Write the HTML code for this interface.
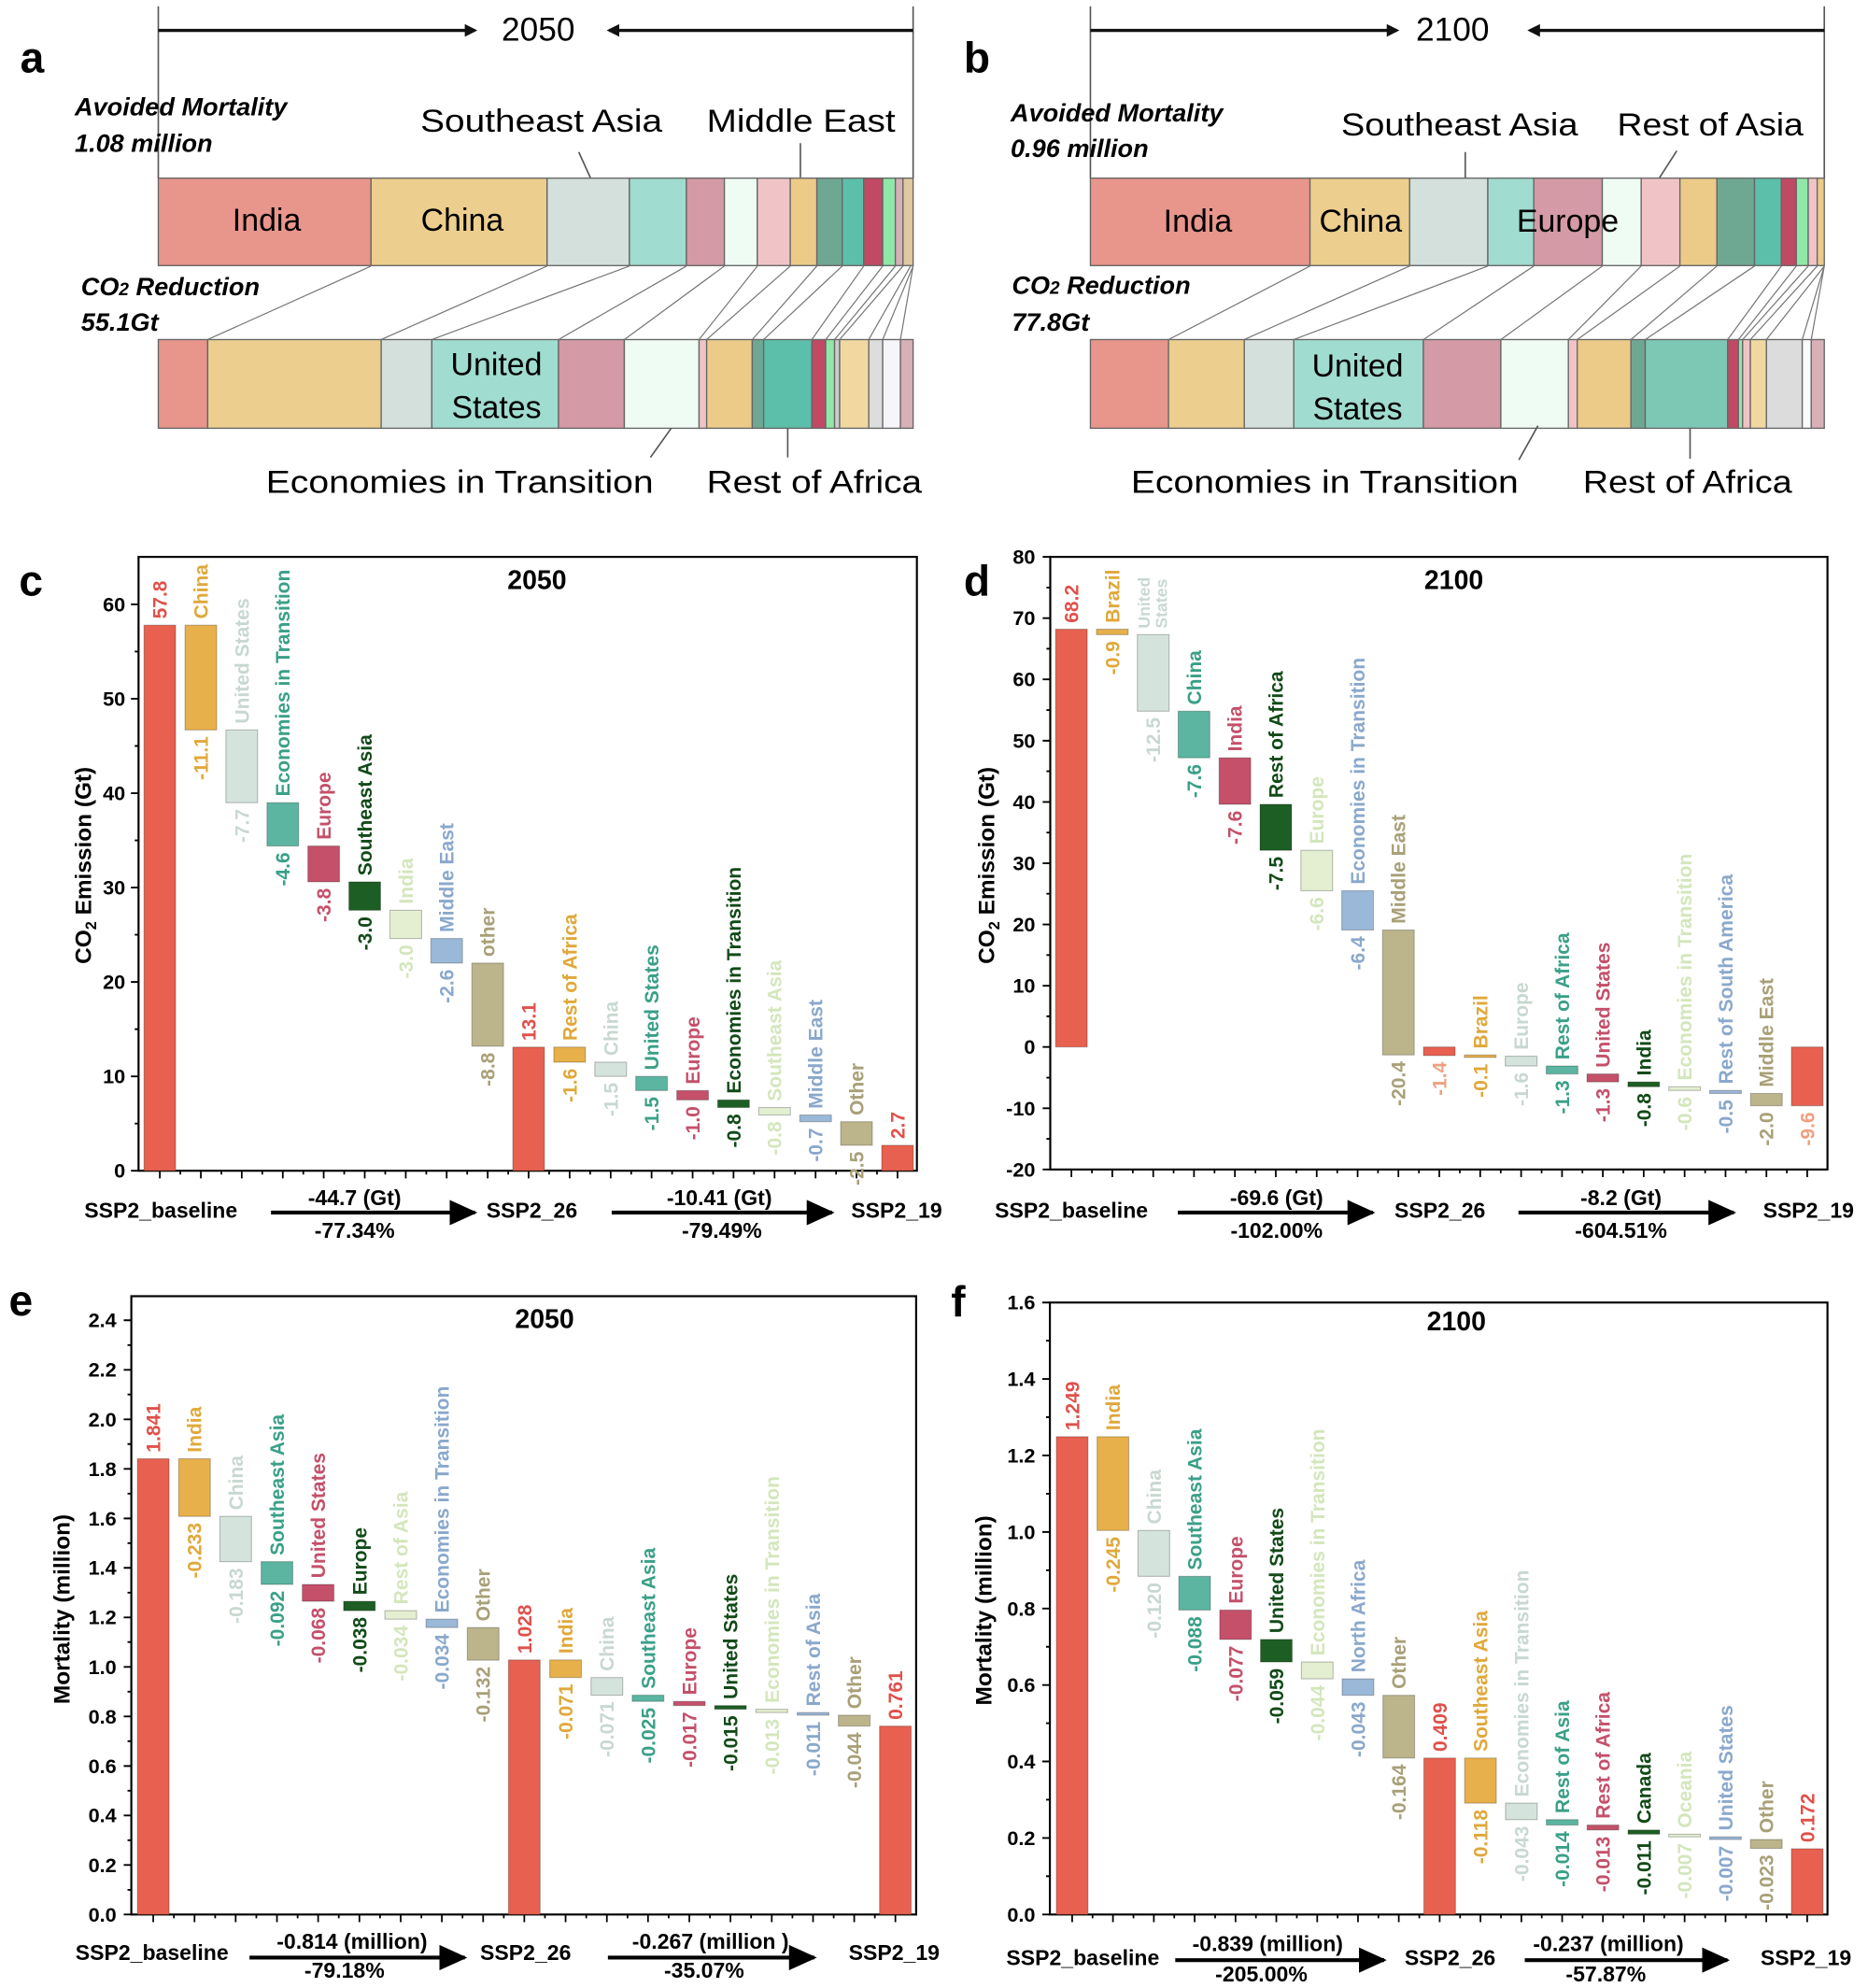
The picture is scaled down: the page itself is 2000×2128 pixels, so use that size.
<!DOCTYPE html>
<html><head><meta charset="utf-8"><style>
html,body{margin:0;padding:0;background:#fff}
svg{display:block}
text{font-family:"Liberation Sans",Arial,sans-serif}
.b{font-weight:bold}
.n{font-size:15.5px;font-weight:bold}
.v{font-size:15.5px;font-weight:bold;text-anchor:end}
.t{font-size:16px;font-weight:bold;text-anchor:end}
.x{font-size:17px;font-weight:bold;text-anchor:middle}
.reg{font-size:25px}
.it{font-size:20px;font-weight:bold;font-style:italic}
.L{font-size:34px;font-weight:bold}
</style></head><body>
<svg width="2000" height="2128" viewBox="0 0 1475 1569" preserveAspectRatio="none" xmlns="http://www.w3.org/2000/svg">
<defs><marker id="ah" markerWidth="10" markerHeight="10" refX="8" refY="5" orient="auto" markerUnits="userSpaceOnUse"><path d="M0,0 L10,5 L0,10 z" fill="#111"/></marker>
<marker id="ah2" markerWidth="22" markerHeight="20" refX="20" refY="10" orient="auto" markerUnits="userSpaceOnUse"><path d="M0,0 L22,10 L0,20 z" fill="#000"/></marker></defs>

<!-- ===== Panel a ===== -->
<text class="L" x="16" y="57">a</text>
<path d="M125,5V141M721,5V141" stroke="#555" stroke-width="1.2"/>
<path d="M125,24H375" stroke="#111" stroke-width="2.5" marker-end="url(#ah)"/>
<path d="M721,24H481" stroke="#111" stroke-width="2.5" marker-end="url(#ah)"/>
<text x="425" y="32" font-size="26" text-anchor="middle">2050</text>
<text class="it" x="59" y="91">Avoided  Mortality</text>
<text class="it" x="59" y="120">1.08 million</text>
<text class="it" x="64" y="233">CO<tspan font-size="14">2</tspan> Reduction</text>
<text class="it" x="64" y="261">55.1Gt</text>
<text class="reg" x="332" y="104" textLength="191" lengthAdjust="spacingAndGlyphs">Southeast Asia</text>
<text class="reg" x="558" y="104" textLength="149" lengthAdjust="spacingAndGlyphs">Middle East</text>
<path d="M466.5,141L457,120M632,140V113" stroke="#555" stroke-width="1.2"/>
<g stroke="#666" stroke-width="1">
<rect x="125" y="140.6" width="168" height="69" fill="#e8958c"/>
<rect x="293" y="140.6" width="139" height="69" fill="#ecce8e"/>
<rect x="432" y="140.6" width="65" height="69" fill="#d3e0dc"/>
<rect x="497" y="140.6" width="45" height="69" fill="#a0dccf"/>
<rect x="542" y="140.6" width="30" height="69" fill="#d49aa5"/>
<rect x="572" y="140.6" width="26" height="69" fill="#effcf4"/>
<rect x="598" y="140.6" width="26" height="69" fill="#f0c4c6"/>
<rect x="624" y="140.6" width="21" height="69" fill="#ecca88"/>
<rect x="645" y="140.6" width="20" height="69" fill="#6fa892"/>
<rect x="665" y="140.6" width="17" height="69" fill="#5cbfaa"/>
<rect x="682" y="140.6" width="15" height="69" fill="#c04a64"/>
<rect x="697" y="140.6" width="10" height="69" fill="#90e8a8"/>
<rect x="707" y="140.6" width="6" height="69" fill="#d8b0b8"/>
<rect x="713" y="140.6" width="8" height="69" fill="#e0c8a0"/>
<rect x="125" y="268" width="39" height="70" fill="#e8958c"/>
<rect x="164" y="268" width="137" height="70" fill="#ecce8e"/>
<rect x="301" y="268" width="40" height="70" fill="#d3e0dc"/>
<rect x="341" y="268" width="100" height="70" fill="#a0dccf"/>
<rect x="441" y="268" width="52" height="70" fill="#d49aa5"/>
<rect x="493" y="268" width="59" height="70" fill="#effcf4"/>
<rect x="552" y="268" width="6" height="70" fill="#f0c4c6"/>
<rect x="558" y="268" width="36" height="70" fill="#ecca88"/>
<rect x="594" y="268" width="9" height="70" fill="#6fa892"/>
<rect x="603" y="268" width="38" height="70" fill="#5cbfaa"/>
<rect x="641" y="268" width="11" height="70" fill="#c04a64"/>
<rect x="652" y="268" width="7" height="70" fill="#90e8a8"/>
<rect x="659" y="268" width="4" height="70" fill="#ccc"/>
<rect x="663" y="268" width="23" height="70" fill="#f0d8a0"/>
<rect x="686" y="268" width="11" height="70" fill="#dddddd"/>
<rect x="697" y="268" width="14" height="70" fill="#f6f6fa"/>
<rect x="711" y="268" width="10" height="70" fill="#d8b0b8"/>
</g>
<g stroke="#777" stroke-width="0.9">
<path d="M293,210L164,268M432,210L301,268M497,210L341,268M542,210L441,268M572,210L493,268M598,210L552,268M624,210L558,268M645,210L594,268M665,210L603,268M682,210L641,268M697,210L652,268M707,210L659,268M713,210L663,268M719,210L686,268M721,210L697,268M721,210L711,268"/>
</g>
<text class="reg" x="210.6" y="182" text-anchor="middle">India</text>
<text class="reg" x="365" y="182" text-anchor="middle">China</text>
<text class="reg" x="392" y="296" text-anchor="middle">United</text>
<text class="reg" x="392" y="330" text-anchor="middle">States</text>
<text class="reg" x="210" y="389" textLength="306" lengthAdjust="spacingAndGlyphs">Economies in Transition</text>
<text class="reg" x="558" y="389" textLength="170" lengthAdjust="spacingAndGlyphs">Rest of Africa</text>
<path d="M530,338L513.6,361M622,338V361" stroke="#555" stroke-width="1.2"/>

<!-- ===== Panel b ===== -->
<text class="L" x="761" y="57">b</text>
<path d="M861,5V141M1440.5,5V141" stroke="#555" stroke-width="1.2"/>
<path d="M861,24H1103" stroke="#111" stroke-width="2.5" marker-end="url(#ah)"/>
<path d="M1440.5,24H1208" stroke="#111" stroke-width="2.5" marker-end="url(#ah)"/>
<text x="1147" y="32" font-size="26" text-anchor="middle">2100</text>
<text class="it" x="798" y="96">Avoided  Mortality</text>
<text class="it" x="798" y="124">0.96 million</text>
<text class="it" x="799" y="232">CO<tspan font-size="14">2</tspan> Reduction</text>
<text class="it" x="799" y="261">77.8Gt</text>
<text class="reg" x="1059" y="107" textLength="187" lengthAdjust="spacingAndGlyphs">Southeast Asia</text>
<text class="reg" x="1277" y="107" textLength="147" lengthAdjust="spacingAndGlyphs">Rest of Asia</text>
<path d="M1157,120V147M1324,119L1308,144" stroke="#555" stroke-width="1.2"/>
<g stroke="#666" stroke-width="1">
<rect x="861" y="140.6" width="173.4" height="69" fill="#e8958c"/>
<rect x="1034.4" y="140.6" width="78.7" height="69" fill="#ecce8e"/>
<rect x="1113.1" y="140.6" width="61.7" height="69" fill="#d3e0dc"/>
<rect x="1174.8" y="140.6" width="36.3" height="69" fill="#a0dccf"/>
<rect x="1211.1" y="140.6" width="54.1" height="69" fill="#d49aa5"/>
<rect x="1265.2" y="140.6" width="30.7" height="69" fill="#effcf4"/>
<rect x="1295.9" y="140.6" width="30.6" height="69" fill="#f0c4c6"/>
<rect x="1326.5" y="140.6" width="29.2" height="69" fill="#ecca88"/>
<rect x="1355.7" y="140.6" width="29.7" height="69" fill="#6fa892"/>
<rect x="1385.4" y="140.6" width="21.2" height="69" fill="#5cbfaa"/>
<rect x="1406.6" y="140.6" width="11.8" height="69" fill="#c04a64"/>
<rect x="1418.4" y="140.6" width="9.4" height="69" fill="#90e8a8"/>
<rect x="1427.8" y="140.6" width="7.1" height="69" fill="#f0c4c6"/>
<rect x="1434.9" y="140.6" width="5.6" height="69" fill="#ecca88"/>
<rect x="861" y="268" width="61.7" height="70" fill="#e8958c"/>
<rect x="922.7" y="268" width="59.8" height="70" fill="#ecce8e"/>
<rect x="982.5" y="268" width="39.1" height="70" fill="#d3e0dc"/>
<rect x="1021.6" y="268" width="102.3" height="70" fill="#a0dccf"/>
<rect x="1123.9" y="268" width="61.2" height="70" fill="#d49aa5"/>
<rect x="1185.1" y="268" width="53.3" height="70" fill="#effcf4"/>
<rect x="1238.4" y="268" width="7" height="70" fill="#f0c4c6"/>
<rect x="1245.4" y="268" width="42.4" height="70" fill="#ecca88"/>
<rect x="1287.8" y="268" width="11.3" height="70" fill="#6fa892"/>
<rect x="1299.1" y="268" width="65.1" height="70" fill="#7cc8b4"/>
<rect x="1364.2" y="268" width="8.5" height="70" fill="#c04a64"/>
<rect x="1372.7" y="268" width="3.3" height="70" fill="#90e8a8"/>
<rect x="1376" y="268" width="6.1" height="70" fill="#f0c4c6"/>
<rect x="1382.1" y="268" width="12.7" height="70" fill="#f0d8a0"/>
<rect x="1394.8" y="268" width="28.3" height="70" fill="#dcdcdc"/>
<rect x="1423.1" y="268" width="7.1" height="70" fill="#fafafa"/>
<rect x="1430.2" y="268" width="10.3" height="70" fill="#d8b0b8"/>
</g>
<g stroke="#777" stroke-width="0.9">
<path d="M1034.4,210L922.7,268M1113.1,210L982.5,268M1174.8,210L1021.6,268M1211.1,210L1123.9,268M1265.2,210L1185.1,268M1295.9,210L1238.4,268M1326.5,210L1245.4,268M1355.7,210L1287.8,268M1385.4,210L1299.1,268M1406.6,210L1364.2,268M1418.4,210L1372.7,268M1427.8,210L1376,268M1434.9,210L1382.1,268M1440.5,210L1394.8,268M1440.5,210L1423.1,268M1440.5,210L1430.2,268"/>
</g>
<text class="reg" x="945.8" y="183" text-anchor="middle">India</text>
<text class="reg" x="1074.4" y="183" text-anchor="middle">China</text>
<text class="reg" x="1237.9" y="183" text-anchor="middle">Europe</text>
<text class="reg" x="1072" y="297" text-anchor="middle">United</text>
<text class="reg" x="1072" y="331" text-anchor="middle">States</text>
<text class="reg" x="893" y="389" textLength="306" lengthAdjust="spacingAndGlyphs">Economies in Transition</text>
<text class="reg" x="1250" y="389" textLength="165" lengthAdjust="spacingAndGlyphs">Rest of Africa</text>
<path d="M1214.4,336L1199.3,363M1334.5,338V362" stroke="#555" stroke-width="1.2"/>

<!-- ===== Panel c ===== -->
<text class="L" x="15" y="470">c</text>
<rect x="109.4" y="439.5" width="614.6" height="484.5" fill="none" stroke="#000" stroke-width="1.6"/>
<path d="M109.4,924h-6M109.4,849.5h-6M109.4,775h-6M109.4,700.5h-6M109.4,626h-6M109.4,551.5h-6M109.4,477h-6M109.4,886.75h-3M109.4,812.25h-3M109.4,737.75h-3M109.4,663.25h-3M109.4,588.75h-3M109.4,514.25h-3" stroke="#000" stroke-width="1.4"/>
<g class="t"><text x="99" y="929.5">0</text><text x="99" y="557">50</text><text x="99" y="855">10</text><text x="99" y="780.5">20</text><text x="99" y="706">30</text><text x="99" y="631.5">40</text><text x="99" y="482.5">60</text></g>
<path d="M126.2,924v6M158.6,924v6M190.9,924v6M223.3,924v6M255.6,924v6M288,924v6M320.4,924v6M352.7,924v6M385.1,924v6M417.4,924v6M449.8,924v6M482.2,924v6M514.5,924v6M546.9,924v6M579.2,924v6M611.6,924v6M644,924v6M676.3,924v6M708.7,924v6M142.4,924v3M174.8,924v3M207.1,924v3M239.5,924v3M271.8,924v3M304.2,924v3M336.6,924v3M368.9,924v3M401.3,924v3M433.6,924v3M466,924v3M498.4,924v3M530.7,924v3M563.1,924v3M595.4,924v3M627.8,924v3M660.2,924v3M692.5,924v3" stroke="#000" stroke-width="1.3"/>
<text transform="translate(72,683) rotate(-90)" font-size="18" font-weight="bold" text-anchor="middle">CO<tspan font-size="12" dy="4">2</tspan><tspan dy="-4"> Emission (Gt)</tspan></text>
<text x="424" y="465" font-size="21" font-weight="bold" text-anchor="middle">2050</text>
<g stroke="rgba(0,0,0,0.25)" stroke-width="0.8">
<rect x="113.7" y="493.4" width="25" height="430.6" fill="#e8604f"/>
<rect x="146.1" y="493.4" width="25" height="82.7" fill="#e8b04a"/>
<rect x="178.4" y="576.1" width="25" height="57.4" fill="#d4e4dc"/>
<rect x="210.8" y="633.5" width="25" height="34.2" fill="#5bb5a0"/>
<rect x="243.1" y="667.7" width="25" height="28.3" fill="#c4506a"/>
<rect x="275.5" y="696" width="25" height="22.4" fill="#1d5e25"/>
<rect x="307.9" y="718.4" width="25" height="22.3" fill="#e3efd0"/>
<rect x="340.2" y="740.7" width="25" height="19.4" fill="#9ab8d8"/>
<rect x="372.6" y="760.1" width="25" height="65.6" fill="#bcb48a"/>
<rect x="404.9" y="826.4" width="25" height="97.6" fill="#e8604f"/>
<rect x="437.3" y="826.4" width="25" height="11.9" fill="#e8b04a"/>
<rect x="469.7" y="838.3" width="25" height="11.2" fill="#d4e4dc"/>
<rect x="502" y="849.5" width="25" height="11.2" fill="#5bb5a0"/>
<rect x="534.4" y="860.7" width="25" height="7.4" fill="#c4506a"/>
<rect x="566.7" y="868.1" width="25" height="6" fill="#1d5e25"/>
<rect x="599.1" y="874.1" width="25" height="5.9" fill="#e3efd0"/>
<rect x="631.5" y="880" width="25" height="5.3" fill="#9ab8d8"/>
<rect x="663.8" y="885.3" width="25" height="18.6" fill="#bcb48a"/>
<rect x="696.2" y="903.9" width="25" height="20.1" fill="#e8604f"/>
</g>
<g class="n">
<text transform="translate(131.7,488.4) rotate(-90)" fill="#e0504a">57.8</text>
<text transform="translate(164.1,488.4) rotate(-90)" fill="#e0a83a">China</text>
<text transform="translate(196.4,571.1) rotate(-90)" fill="#c8d8d0">United States</text>
<text transform="translate(228.8,628.5) rotate(-90)" fill="#3aa088">Economies in Transition</text>
<text transform="translate(261.1,662.7) rotate(-90)" fill="#c4506a">Europe</text>
<text transform="translate(293.5,691) rotate(-90)" fill="#124a18">Southeast Asia</text>
<text transform="translate(325.9,713.4) rotate(-90)" fill="#d4e6bc">India</text>
<text transform="translate(358.2,735.7) rotate(-90)" fill="#8aa8cc">Middle East</text>
<text transform="translate(390.6,755.1) rotate(-90)" fill="#a8a078">other</text>
<text transform="translate(422.9,821.4) rotate(-90)" fill="#e0504a">13.1</text>
<text transform="translate(455.3,821.4) rotate(-90)" fill="#e0a83a">Rest of Africa</text>
<text transform="translate(487.7,833.3) rotate(-90)" fill="#c8d8d0">China</text>
<text transform="translate(520,844.5) rotate(-90)" fill="#3aa088">United States</text>
<text transform="translate(552.4,855.7) rotate(-90)" fill="#c4506a">Europe</text>
<text transform="translate(584.7,863.1) rotate(-90)" fill="#124a18">Economies in Transition</text>
<text transform="translate(617.1,869.1) rotate(-90)" fill="#d4e6bc">Southeast Asia</text>
<text transform="translate(649.5,875) rotate(-90)" fill="#8aa8cc">Middle East</text>
<text transform="translate(681.8,880.3) rotate(-90)" fill="#a8a078">Other</text>
<text transform="translate(714.2,898.9) rotate(-90)" fill="#e0504a">2.7</text>
</g>
<g class="v">
<text transform="translate(164.1,581.1) rotate(-90)" fill="#e0a83a">-11.1</text>
<text transform="translate(196.4,638.5) rotate(-90)" fill="#c8d8d0">-7.7</text>
<text transform="translate(228.8,672.7) rotate(-90)" fill="#3aa088">-4.6</text>
<text transform="translate(261.1,701) rotate(-90)" fill="#c4506a">-3.8</text>
<text transform="translate(293.5,723.4) rotate(-90)" fill="#124a18">-3.0</text>
<text transform="translate(325.9,745.7) rotate(-90)" fill="#d4e6bc">-3.0</text>
<text transform="translate(358.2,765.1) rotate(-90)" fill="#8aa8cc">-2.6</text>
<text transform="translate(390.6,830.7) rotate(-90)" fill="#a8a078">-8.8</text>
<text transform="translate(455.3,843.3) rotate(-90)" fill="#e0a83a">-1.6</text>
<text transform="translate(487.7,854.5) rotate(-90)" fill="#c8d8d0">-1.5</text>
<text transform="translate(520,865.7) rotate(-90)" fill="#3aa088">-1.5</text>
<text transform="translate(552.4,873.1) rotate(-90)" fill="#c4506a">-1.0</text>
<text transform="translate(584.7,879.1) rotate(-90)" fill="#124a18">-0.8</text>
<text transform="translate(617.1,885) rotate(-90)" fill="#d4e6bc">-0.8</text>
<text transform="translate(649.5,890.3) rotate(-90)" fill="#8aa8cc">-0.7</text>
<text transform="translate(681.8,908.9) rotate(-90)" fill="#a8a078">-2.5</text>
</g>
<g class="x">
<text x="127" y="961">SSP2_baseline</text>
<text x="280" y="951">-44.7 (Gt)</text>
<text x="280" y="977">-77.34%</text>
<text x="420" y="961">SSP2_26</text>
<text x="568" y="951">-10.41 (Gt)</text>
<text x="570" y="977">-79.49%</text>
<text x="708" y="961">SSP2_19</text>
</g>
<path d="M214,957H375" stroke="#000" stroke-width="3" marker-end="url(#ah2)"/>
<path d="M483,957H657" stroke="#000" stroke-width="3" marker-end="url(#ah2)"/>

<!-- ===== Panel d ===== -->
<text class="L" x="761" y="470">d</text>
<rect x="829.3" y="439.5" width="613.7" height="483.5" fill="none" stroke="#000" stroke-width="1.6"/>
<path d="M829.3,923h-6M829.3,874.7h-6M829.3,826.3h-6M829.3,778h-6M829.3,729.6h-6M829.3,681.3h-6M829.3,632.9h-6M829.3,584.6h-6M829.3,536.2h-6M829.3,487.9h-6M829.3,439.5h-6M829.3,898.8h-3M829.3,850.5h-3M829.3,802.1h-3M829.3,753.8h-3M829.3,705.4h-3M829.3,657.1h-3M829.3,608.7h-3M829.3,560.4h-3M829.3,512h-3M829.3,463.7h-3" stroke="#000" stroke-width="1.4"/>
<g class="t"><text x="817.5" y="928.5">-20</text><text x="817.5" y="880.2">-10</text><text x="817.5" y="831.8">0</text><text x="817.5" y="783.5">10</text><text x="817.5" y="735.1">20</text><text x="817.5" y="686.8">30</text><text x="817.5" y="638.4">40</text><text x="817.5" y="590.1">50</text><text x="817.5" y="541.7">60</text><text x="817.5" y="493.4">70</text><text x="817.5" y="445">80</text></g>
<path d="M846,923v6M878.3,923v6M910.6,923v6M942.8,923v6M975.1,923v6M1007.4,923v6M1039.7,923v6M1072,923v6M1104.2,923v6M1136.5,923v6M1168.8,923v6M1201.1,923v6M1233.4,923v6M1265.6,923v6M1297.9,923v6M1330.2,923v6M1362.5,923v6M1394.8,923v6M1427,923v6M862.2,923v3M894.5,923v3M926.7,923v3M959,923v3M991.3,923v3M1023.6,923v3M1055.9,923v3M1088.1,923v3M1120.4,923v3M1152.7,923v3M1185,923v3M1217.3,923v3M1249.5,923v3M1281.8,923v3M1314.1,923v3M1346.4,923v3M1378.7,923v3M1410.9,923v3" stroke="#000" stroke-width="1.3"/>
<text transform="translate(785,683) rotate(-90)" font-size="18" font-weight="bold" text-anchor="middle">CO<tspan font-size="12" dy="4">2</tspan><tspan dy="-4"> Emission (Gt)</tspan></text>
<text x="1148" y="465" font-size="21" font-weight="bold" text-anchor="middle">2100</text>
<g stroke="rgba(0,0,0,0.25)" stroke-width="0.8">
<rect x="833.5" y="496.6" width="25" height="329.7" fill="#e8604f"/>
<rect x="865.8" y="496.6" width="25" height="4.3" fill="#e8b04a"/>
<rect x="898.1" y="500.9" width="25" height="60.4" fill="#d4e4dc"/>
<rect x="930.3" y="561.3" width="25" height="36.8" fill="#5bb5a0"/>
<rect x="962.6" y="598.1" width="25" height="36.7" fill="#c4506a"/>
<rect x="994.9" y="634.8" width="25" height="36.3" fill="#1d5e25"/>
<rect x="1027.2" y="671.1" width="25" height="31.9" fill="#e3efd0"/>
<rect x="1059.5" y="703" width="25" height="31" fill="#9ab8d8"/>
<rect x="1091.7" y="734" width="25" height="98.6" fill="#bcb48a"/>
<rect x="1124" y="826.3" width="25" height="6.8" fill="#e8604f"/>
<rect x="1156.3" y="832.6" width="25" height="2" fill="#e8b04a"/>
<rect x="1188.6" y="833.6" width="25" height="7.7" fill="#d4e4dc"/>
<rect x="1220.9" y="841.3" width="25" height="6.3" fill="#5bb5a0"/>
<rect x="1253.1" y="847.6" width="25" height="6.3" fill="#c4506a"/>
<rect x="1285.4" y="853.9" width="25" height="3.8" fill="#1d5e25"/>
<rect x="1317.7" y="857.7" width="25" height="2.9" fill="#e3efd0"/>
<rect x="1350" y="860.6" width="25" height="2.4" fill="#9ab8d8"/>
<rect x="1382.3" y="863" width="25" height="9.7" fill="#bcb48a"/>
<rect x="1414.5" y="826.3" width="25" height="46.4" fill="#e8604f"/>
</g>
<g class="n">
<text transform="translate(851.5,491.6) rotate(-90)" fill="#e0504a">68.2</text>
<text transform="translate(883.8,491.6) rotate(-90)" fill="#e0a83a">Brazil</text>
<text transform="translate(908,495.9) rotate(-90)" fill="#c8d8d0" font-size="13">United</text>
<text transform="translate(921.5,495.9) rotate(-90)" fill="#c8d8d0" font-size="13">States</text>
<text transform="translate(948.3,556.3) rotate(-90)" fill="#3aa088">China</text>
<text transform="translate(980.6,593.1) rotate(-90)" fill="#c4506a">India</text>
<text transform="translate(1012.9,629.8) rotate(-90)" fill="#124a18">Rest of Africa</text>
<text transform="translate(1045.2,666.1) rotate(-90)" fill="#d4e6bc">Europe</text>
<text transform="translate(1077.5,698) rotate(-90)" fill="#8aa8cc">Economies in Transition</text>
<text transform="translate(1109.7,729) rotate(-90)" fill="#a8a078">Middle East</text>
<text transform="translate(1174.3,827.6) rotate(-90)" fill="#e0a83a">Brazil</text>
<text transform="translate(1206.6,828.6) rotate(-90)" fill="#c8d8d0">Europe</text>
<text transform="translate(1238.9,836.3) rotate(-90)" fill="#3aa088">Rest of Africa</text>
<text transform="translate(1271.1,842.6) rotate(-90)" fill="#c4506a">United States</text>
<text transform="translate(1303.4,848.9) rotate(-90)" fill="#124a18">India</text>
<text transform="translate(1335.7,852.7) rotate(-90)" fill="#d4e6bc">Economies in Transition</text>
<text transform="translate(1368,855.6) rotate(-90)" fill="#8aa8cc">Rest of South America</text>
<text transform="translate(1400.3,858) rotate(-90)" fill="#a8a078">Middle East</text>
</g>
<g class="v">
<text transform="translate(883.8,505.9) rotate(-90)" fill="#e0a83a">-0.9</text>
<text transform="translate(916.1,566.3) rotate(-90)" fill="#c8d8d0">-12.5</text>
<text transform="translate(948.3,603.1) rotate(-90)" fill="#3aa088">-7.6</text>
<text transform="translate(980.6,639.8) rotate(-90)" fill="#c4506a">-7.6</text>
<text transform="translate(1012.9,676.1) rotate(-90)" fill="#124a18">-7.5</text>
<text transform="translate(1045.2,708) rotate(-90)" fill="#d4e6bc">-6.6</text>
<text transform="translate(1077.5,739) rotate(-90)" fill="#8aa8cc">-6.4</text>
<text transform="translate(1109.7,837.6) rotate(-90)" fill="#a8a078">-20.4</text>
<text transform="translate(1142,838.1) rotate(-90)" fill="#eea080">-1.4</text>
<text transform="translate(1174.3,839.6) rotate(-90)" fill="#e0a83a">-0.1</text>
<text transform="translate(1206.6,846.3) rotate(-90)" fill="#c8d8d0">-1.6</text>
<text transform="translate(1238.9,852.6) rotate(-90)" fill="#3aa088">-1.3</text>
<text transform="translate(1271.1,858.9) rotate(-90)" fill="#c4506a">-1.3</text>
<text transform="translate(1303.4,862.7) rotate(-90)" fill="#124a18">-0.8</text>
<text transform="translate(1335.7,865.6) rotate(-90)" fill="#d4e6bc">-0.6</text>
<text transform="translate(1368,868) rotate(-90)" fill="#8aa8cc">-0.5</text>
<text transform="translate(1400.3,877.7) rotate(-90)" fill="#a8a078">-2.0</text>
<text transform="translate(1432.5,877.7) rotate(-90)" fill="#eea080">-9.6</text>
</g>
<g class="x">
<text x="846" y="961">SSP2_baseline</text>
<text x="1008" y="951">-69.6 (Gt)</text>
<text x="1008" y="977">-102.00%</text>
<text x="1137" y="961">SSP2_26</text>
<text x="1280" y="951">-8.2 (Gt)</text>
<text x="1280" y="977">-604.51%</text>
<text x="1428" y="961">SSP2_19</text>
</g>
<path d="M930,957H1084" stroke="#000" stroke-width="3" marker-end="url(#ah2)"/>
<path d="M1199,957H1369" stroke="#000" stroke-width="3" marker-end="url(#ah2)"/>

<!-- ===== Panel e ===== -->
<text class="L" x="7" y="1038">e</text>
<rect x="103.7" y="1023" width="619.7" height="488" fill="none" stroke="#000" stroke-width="1.6"/>
<path d="M103.7,1511h-6M103.7,1471.9h-6M103.7,1432.8h-6M103.7,1393.8h-6M103.7,1354.7h-6M103.7,1315.6h-6M103.7,1276.5h-6M103.7,1237.4h-6M103.7,1198.4h-6M103.7,1159.3h-6M103.7,1120.2h-6M103.7,1081.1h-6M103.7,1042h-6M103.7,1491.5h-3M103.7,1452.4h-3M103.7,1413.3h-3M103.7,1374.2h-3M103.7,1335.1h-3M103.7,1296h-3M103.7,1257h-3M103.7,1217.9h-3M103.7,1178.8h-3M103.7,1139.7h-3M103.7,1100.6h-3M103.7,1061.6h-3" stroke="#000" stroke-width="1.4"/>
<g class="t"><text x="92" y="1516.5">0.0</text><text x="92" y="1477.4">0.2</text><text x="92" y="1438.3">0.4</text><text x="92" y="1399.3">0.6</text><text x="92" y="1360.2">0.8</text><text x="92" y="1321.1">1.0</text><text x="92" y="1282">1.2</text><text x="92" y="1242.9">1.4</text><text x="92" y="1203.9">1.6</text><text x="92" y="1164.8">1.8</text><text x="92" y="1125.7">2.0</text><text x="92" y="1086.6">2.2</text><text x="92" y="1047.5">2.4</text></g>
<path d="M121,1511v6M153.6,1511v6M186.1,1511v6M218.7,1511v6M251.2,1511v6M283.8,1511v6M316.4,1511v6M348.9,1511v6M381.5,1511v6M414,1511v6M446.6,1511v6M479.2,1511v6M511.7,1511v6M544.3,1511v6M576.8,1511v6M609.4,1511v6M642,1511v6M674.5,1511v6M707,1511v6M137.3,1511v3M169.9,1511v3M202.4,1511v3M235,1511v3M267.5,1511v3M300.1,1511v3M332.7,1511v3M365.2,1511v3M397.8,1511v3M430.3,1511v3M462.9,1511v3M495.5,1511v3M528,1511v3M560.6,1511v3M593.1,1511v3M625.7,1511v3M658.3,1511v3M690.8,1511v3" stroke="#000" stroke-width="1.3"/>
<text transform="translate(55,1270) rotate(-90)" font-size="18" font-weight="bold" text-anchor="middle">Mortality (million)</text>
<text x="430" y="1048" font-size="21" font-weight="bold" text-anchor="middle">2050</text>
<g stroke="rgba(0,0,0,0.25)" stroke-width="0.8">
<rect x="108.5" y="1151.3" width="25" height="359.7" fill="#e8604f"/>
<rect x="141.1" y="1151.3" width="25" height="45.5" fill="#e8b04a"/>
<rect x="173.6" y="1196.8" width="25" height="35.7" fill="#d4e4dc"/>
<rect x="206.2" y="1232.5" width="25" height="18" fill="#5bb5a0"/>
<rect x="238.7" y="1250.5" width="25" height="13.3" fill="#c4506a"/>
<rect x="271.3" y="1263.8" width="25" height="7.4" fill="#1d5e25"/>
<rect x="303.9" y="1271.2" width="25" height="6.7" fill="#e3efd0"/>
<rect x="336.4" y="1277.9" width="25" height="6.6" fill="#9ab8d8"/>
<rect x="369" y="1284.5" width="25" height="25.8" fill="#bcb48a"/>
<rect x="401.5" y="1310.1" width="25" height="200.9" fill="#e8604f"/>
<rect x="434.1" y="1310.1" width="25" height="13.9" fill="#e8b04a"/>
<rect x="466.7" y="1324" width="25" height="13.9" fill="#d4e4dc"/>
<rect x="499.2" y="1337.9" width="25" height="4.9" fill="#5bb5a0"/>
<rect x="531.8" y="1342.8" width="25" height="3.3" fill="#c4506a"/>
<rect x="564.3" y="1346.1" width="25" height="2.9" fill="#1d5e25"/>
<rect x="596.9" y="1349" width="25" height="2.6" fill="#e3efd0"/>
<rect x="629.5" y="1351.6" width="25" height="2.1" fill="#9ab8d8"/>
<rect x="662" y="1353.7" width="25" height="8.6" fill="#bcb48a"/>
<rect x="694.5" y="1362.3" width="25" height="148.7" fill="#e8604f"/>
</g>
<g class="n">
<text transform="translate(126.5,1146.3) rotate(-90)" fill="#e0504a">1.841</text>
<text transform="translate(159.1,1146.3) rotate(-90)" fill="#e0a83a">India</text>
<text transform="translate(191.6,1191.8) rotate(-90)" fill="#c8d8d0">China</text>
<text transform="translate(224.2,1227.5) rotate(-90)" fill="#3aa088">Southeast Asia</text>
<text transform="translate(256.7,1245.5) rotate(-90)" fill="#c4506a">United States</text>
<text transform="translate(289.3,1258.8) rotate(-90)" fill="#124a18">Europe</text>
<text transform="translate(321.9,1266.2) rotate(-90)" fill="#d4e6bc">Rest of Asia</text>
<text transform="translate(354.4,1272.9) rotate(-90)" fill="#8aa8cc">Economies in Transition</text>
<text transform="translate(387,1279.5) rotate(-90)" fill="#a8a078">Other</text>
<text transform="translate(419.5,1305.1) rotate(-90)" fill="#e0504a">1.028</text>
<text transform="translate(452.1,1305.1) rotate(-90)" fill="#e0a83a">India</text>
<text transform="translate(484.7,1319) rotate(-90)" fill="#c8d8d0">China</text>
<text transform="translate(517.2,1332.9) rotate(-90)" fill="#3aa088">Southeast Asia</text>
<text transform="translate(549.8,1337.8) rotate(-90)" fill="#c4506a">Europe</text>
<text transform="translate(582.3,1341.1) rotate(-90)" fill="#124a18">United States</text>
<text transform="translate(614.9,1344) rotate(-90)" fill="#d4e6bc">Economies in Transition</text>
<text transform="translate(647.5,1346.6) rotate(-90)" fill="#8aa8cc">Rest of Asia</text>
<text transform="translate(680,1348.7) rotate(-90)" fill="#a8a078">Other</text>
<text transform="translate(712.5,1357.3) rotate(-90)" fill="#e0504a">0.761</text>
</g>
<g class="v">
<text transform="translate(159.1,1201.8) rotate(-90)" fill="#e0a83a">-0.233</text>
<text transform="translate(191.6,1237.5) rotate(-90)" fill="#c8d8d0">-0.183</text>
<text transform="translate(224.2,1255.5) rotate(-90)" fill="#3aa088">-0.092</text>
<text transform="translate(256.7,1268.8) rotate(-90)" fill="#c4506a">-0.068</text>
<text transform="translate(289.3,1276.2) rotate(-90)" fill="#124a18">-0.038</text>
<text transform="translate(321.9,1282.9) rotate(-90)" fill="#d4e6bc">-0.034</text>
<text transform="translate(354.4,1289.5) rotate(-90)" fill="#8aa8cc">-0.034</text>
<text transform="translate(387,1315.3) rotate(-90)" fill="#a8a078">-0.132</text>
<text transform="translate(452.1,1329) rotate(-90)" fill="#e0a83a">-0.071</text>
<text transform="translate(484.7,1342.9) rotate(-90)" fill="#c8d8d0">-0.071</text>
<text transform="translate(517.2,1347.8) rotate(-90)" fill="#3aa088">-0.025</text>
<text transform="translate(549.8,1351.1) rotate(-90)" fill="#c4506a">-0.017</text>
<text transform="translate(582.3,1354) rotate(-90)" fill="#124a18">-0.015</text>
<text transform="translate(614.9,1356.6) rotate(-90)" fill="#d4e6bc">-0.013</text>
<text transform="translate(647.5,1358.7) rotate(-90)" fill="#8aa8cc">-0.011</text>
<text transform="translate(680,1367.3) rotate(-90)" fill="#a8a078">-0.044</text>
</g>
<g class="x">
<text x="120" y="1547">SSP2_baseline</text>
<text x="278" y="1538">-0.814 (million)</text>
<text x="272" y="1561">-79.18%</text>
<text x="415" y="1547">SSP2_26</text>
<text x="561" y="1538">-0.267 (million )</text>
<text x="556" y="1561">-35.07%</text>
<text x="706" y="1547">SSP2_19</text>
</g>
<path d="M197,1545H367" stroke="#000" stroke-width="3" marker-end="url(#ah2)"/>
<path d="M480,1545H643" stroke="#000" stroke-width="3" marker-end="url(#ah2)"/>

<!-- ===== Panel f ===== -->
<text class="L" x="751" y="1039">f</text>
<rect x="829" y="1028" width="614" height="483" fill="none" stroke="#000" stroke-width="1.6"/>
<path d="M829,1511h-6M829,1450.6h-6M829,1390.2h-6M829,1329.9h-6M829,1269.5h-6M829,1209.1h-6M829,1148.7h-6M829,1088.3h-6M829,1028h-6M829,1480.8h-3M829,1420.4h-3M829,1360h-3M829,1299.7h-3M829,1239.3h-3M829,1178.9h-3M829,1118.5h-3M829,1058.1h-3" stroke="#000" stroke-width="1.4"/>
<g class="t"><text x="817.5" y="1516.5">0.0</text><text x="817.5" y="1456.1">0.2</text><text x="817.5" y="1395.7">0.4</text><text x="817.5" y="1335.4">0.6</text><text x="817.5" y="1275">0.8</text><text x="817.5" y="1214.6">1.0</text><text x="817.5" y="1154.2">1.2</text><text x="817.5" y="1093.8">1.4</text><text x="817.5" y="1033.5">1.6</text></g>
<path d="M846.6,1511v6M878.8,1511v6M911.1,1511v6M943.3,1511v6M975.6,1511v6M1007.8,1511v6M1040.1,1511v6M1072.3,1511v6M1104.5,1511v6M1136.8,1511v6M1169,1511v6M1201.3,1511v6M1233.5,1511v6M1265.7,1511v6M1298,1511v6M1330.2,1511v6M1362.5,1511v6M1394.7,1511v6M1427,1511v6M862.7,1511v3M895,1511v3M927.2,1511v3M959.5,1511v3M991.7,1511v3M1024,1511v3M1056.2,1511v3M1088.4,1511v3M1120.7,1511v3M1152.9,1511v3M1185.2,1511v3M1217.4,1511v3M1249.6,1511v3M1281.9,1511v3M1314.1,1511v3M1346.4,1511v3M1378.6,1511v3M1410.9,1511v3" stroke="#000" stroke-width="1.3"/>
<text transform="translate(783,1271) rotate(-90)" font-size="18" font-weight="bold" text-anchor="middle">Mortality (million)</text>
<text x="1150" y="1050" font-size="21" font-weight="bold" text-anchor="middle">2100</text>
<g stroke="rgba(0,0,0,0.25)" stroke-width="0.8">
<rect x="834.1" y="1133.9" width="25" height="377.1" fill="#e8604f"/>
<rect x="866.3" y="1133.9" width="25" height="74" fill="#e8b04a"/>
<rect x="898.6" y="1207.9" width="25" height="36.2" fill="#d4e4dc"/>
<rect x="930.8" y="1244.1" width="25" height="26.6" fill="#5bb5a0"/>
<rect x="963.1" y="1270.7" width="25" height="23.2" fill="#c4506a"/>
<rect x="995.3" y="1293.9" width="25" height="17.8" fill="#1d5e25"/>
<rect x="1027.6" y="1311.7" width="25" height="13.3" fill="#e3efd0"/>
<rect x="1059.8" y="1325" width="25" height="13" fill="#9ab8d8"/>
<rect x="1092" y="1338" width="25" height="49.5" fill="#bcb48a"/>
<rect x="1124.3" y="1387.5" width="25" height="123.5" fill="#e8604f"/>
<rect x="1156.5" y="1387.5" width="25" height="35.6" fill="#e8b04a"/>
<rect x="1188.8" y="1423.1" width="25" height="13" fill="#d4e4dc"/>
<rect x="1221" y="1436.1" width="25" height="4.3" fill="#5bb5a0"/>
<rect x="1253.2" y="1440.4" width="25" height="3.9" fill="#c4506a"/>
<rect x="1285.5" y="1444.3" width="25" height="3.3" fill="#1d5e25"/>
<rect x="1317.7" y="1447.6" width="25" height="2.1" fill="#e3efd0"/>
<rect x="1350" y="1449.7" width="25" height="2.1" fill="#9ab8d8"/>
<rect x="1382.2" y="1451.8" width="25" height="7" fill="#bcb48a"/>
<rect x="1414.5" y="1459.1" width="25" height="51.9" fill="#e8604f"/>
</g>
<g class="n">
<text transform="translate(852.1,1128.9) rotate(-90)" fill="#e0504a">1.249</text>
<text transform="translate(884.3,1128.9) rotate(-90)" fill="#e0a83a">India</text>
<text transform="translate(916.6,1202.9) rotate(-90)" fill="#c8d8d0">China</text>
<text transform="translate(948.8,1239.1) rotate(-90)" fill="#3aa088">Southeast Asia</text>
<text transform="translate(981.1,1265.7) rotate(-90)" fill="#c4506a">Europe</text>
<text transform="translate(1013.3,1288.9) rotate(-90)" fill="#124a18">United States</text>
<text transform="translate(1045.6,1306.7) rotate(-90)" fill="#d4e6bc">Economies in Transition</text>
<text transform="translate(1077.8,1320) rotate(-90)" fill="#8aa8cc">North Africa</text>
<text transform="translate(1110,1333) rotate(-90)" fill="#a8a078">Other</text>
<text transform="translate(1142.3,1382.5) rotate(-90)" fill="#e0504a">0.409</text>
<text transform="translate(1174.5,1382.5) rotate(-90)" fill="#e0a83a">Southeast Asia</text>
<text transform="translate(1206.8,1418.1) rotate(-90)" fill="#c8d8d0">Economies in Transition</text>
<text transform="translate(1239,1431.1) rotate(-90)" fill="#3aa088">Rest of Asia</text>
<text transform="translate(1271.2,1435.4) rotate(-90)" fill="#c4506a">Rest of Africa</text>
<text transform="translate(1303.5,1439.3) rotate(-90)" fill="#124a18">Canada</text>
<text transform="translate(1335.7,1442.6) rotate(-90)" fill="#d4e6bc">Oceania</text>
<text transform="translate(1368,1444.7) rotate(-90)" fill="#8aa8cc">United States</text>
<text transform="translate(1400.2,1446.8) rotate(-90)" fill="#a8a078">Other</text>
<text transform="translate(1432.5,1454.1) rotate(-90)" fill="#e0504a">0.172</text>
</g>
<g class="v">
<text transform="translate(884.3,1212.9) rotate(-90)" fill="#e0a83a">-0.245</text>
<text transform="translate(916.6,1249.1) rotate(-90)" fill="#c8d8d0">-0.120</text>
<text transform="translate(948.8,1275.7) rotate(-90)" fill="#3aa088">-0.088</text>
<text transform="translate(981.1,1298.9) rotate(-90)" fill="#c4506a">-0.077</text>
<text transform="translate(1013.3,1316.7) rotate(-90)" fill="#124a18">-0.059</text>
<text transform="translate(1045.6,1330) rotate(-90)" fill="#d4e6bc">-0.044</text>
<text transform="translate(1077.8,1343) rotate(-90)" fill="#8aa8cc">-0.043</text>
<text transform="translate(1110,1392.5) rotate(-90)" fill="#a8a078">-0.164</text>
<text transform="translate(1174.5,1428.1) rotate(-90)" fill="#e0a83a">-0.118</text>
<text transform="translate(1206.8,1441.1) rotate(-90)" fill="#c8d8d0">-0.043</text>
<text transform="translate(1239,1445.4) rotate(-90)" fill="#3aa088">-0.014</text>
<text transform="translate(1271.2,1449.3) rotate(-90)" fill="#c4506a">-0.013</text>
<text transform="translate(1303.5,1452.6) rotate(-90)" fill="#124a18">-0.011</text>
<text transform="translate(1335.7,1454.7) rotate(-90)" fill="#d4e6bc">-0.007</text>
<text transform="translate(1368,1456.8) rotate(-90)" fill="#8aa8cc">-0.007</text>
<text transform="translate(1400.2,1463.8) rotate(-90)" fill="#a8a078">-0.023</text>
</g>
<g class="x">
<text x="855" y="1551">SSP2_baseline</text>
<text x="1001" y="1540">-0.839 (million)</text>
<text x="996" y="1564">-205.00%</text>
<text x="1145" y="1551">SSP2_26</text>
<text x="1270" y="1540">-0.237 (million)</text>
<text x="1268" y="1564">-57.87%</text>
<text x="1426" y="1551">SSP2_19</text>
</g>
<path d="M928,1547H1093" stroke="#000" stroke-width="3" marker-end="url(#ah2)"/>
<path d="M1204,1547H1364" stroke="#000" stroke-width="3" marker-end="url(#ah2)"/>
</svg>
</body></html>
